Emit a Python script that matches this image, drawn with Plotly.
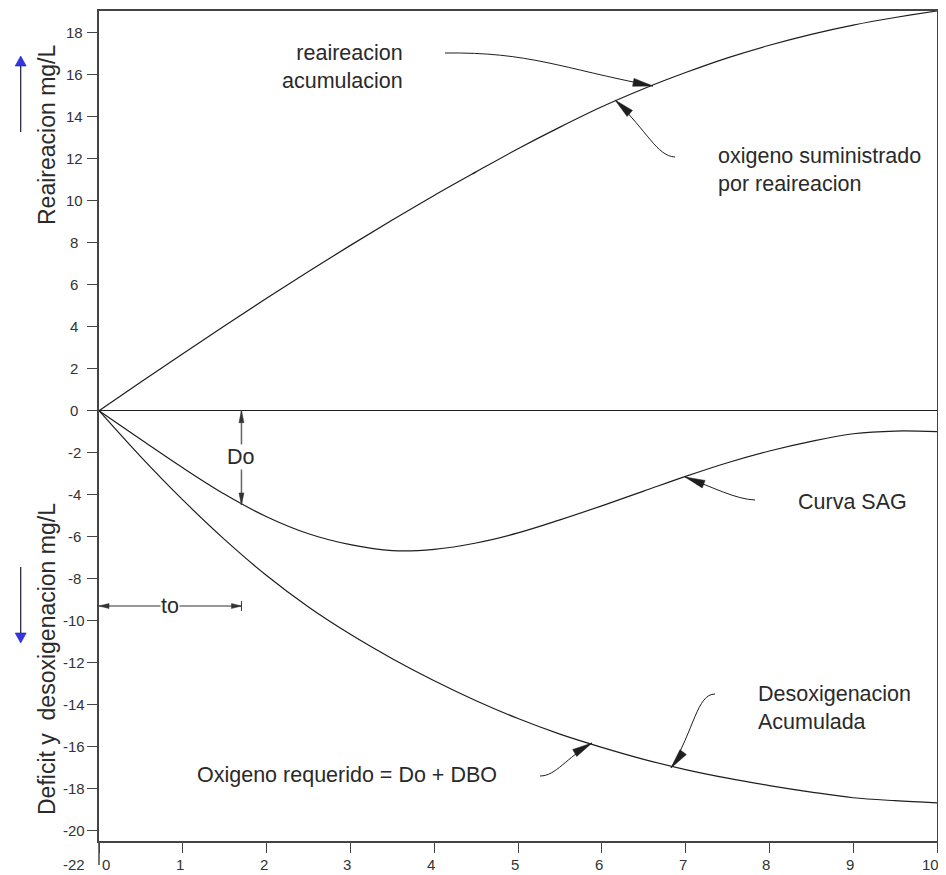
import plotly.graph_objects as go

# ---------------- data ----------------
t_vals = [0, 0.5, 1, 1.5, 2, 2.5, 3, 3.5, 4, 4.5, 5, 5.5, 6, 6.5, 7, 7.5, 8, 8.5, 9, 9.5, 10]

reaer_y = [0, 1.36, 2.71, 4.04, 5.35, 6.63, 7.87, 9.08, 10.25, 11.37, 12.47,
           13.50, 14.47, 15.33, 16.10, 16.80, 17.40, 17.92, 18.36, 18.72, 19.03]

sag_y = [0, -1.37, -2.72, -3.98, -5.05, -5.86, -6.38, -6.66, -6.60, -6.30, -5.82,
         -5.2, -4.53, -3.83, -3.13, -2.48, -1.92, -1.46, -1.1, -0.97, -1.0]

deox_y = [0, -2.2, -4.25, -6.14, -7.85, -9.35, -10.65, -11.81, -12.86, -13.81, -14.66,
          -15.4, -16.03, -16.6, -17.09, -17.5, -17.85, -18.16, -18.43, -18.57, -18.67]

x_ticks = [0, 1, 2, 3, 4, 5, 6, 7, 8, 9, 10]
y_ticks = [-20, -18, -16, -14, -12, -10, -8, -6, -4, -2, 0, 2, 4, 6, 8, 10, 12, 14, 16, 18]
y_extra_label = -22

Do_x = 1.7        # time t0 / deficit Do position
Do_val = -4.49    # deficit at t0 on the SAG curve
to_y = -9.3

# ---------------- layout geometry ----------------
OFF = 8                      # page body margin of the html page
REF_L, REF_R, REF_T, REF_B = 99, 937, 11, 841   # plot box in screen pixels
PW, PH = REF_R - REF_L, REF_B - REF_T
W, H = 946 - OFF, 875 - OFF
ML, MT = REF_L - OFF, REF_T - OFF
MR, MB = W - ML - PW, H - MT - PH
X_RANGE = [0, 10]
Y_RANGE = [-20.49, 19.03]
LABEL_PY = 864               # screen row of the bottom tick labels

FONT = "Liberation Sans, Arial, sans-serif"
TXT = "#2a2a2a"
TICK_FONT = dict(family=FONT, size=15, color="#333333")


def pd(px, py):
    """screen pixel -> data coords"""
    x = X_RANGE[0] + (px - REF_L) / PW * (X_RANGE[1] - X_RANGE[0])
    y = Y_RANGE[1] - (py - REF_T) / PH * (Y_RANGE[1] - Y_RANGE[0])
    return x, y


def dp(x, y):
    """data -> screen pixel coords"""
    px = REF_L + (x - X_RANGE[0]) / (X_RANGE[1] - X_RANGE[0]) * PW
    py = REF_T + (Y_RANGE[1] - y) / (Y_RANGE[1] - Y_RANGE[0]) * PH
    return px, py


def pp(px, py):
    """screen pixel -> paper coords"""
    return (px - REF_L) / PW, (REF_B - py) / PH


def head_path(tip, d, length=20, half=4, paper=False):
    tx, ty = tip
    dx, dy = d
    n = (dx * dx + dy * dy) ** 0.5
    dx, dy = dx / n, dy / n
    bx, by = tx - length * dx, ty - length * dy
    nx, ny = -dy, dx
    pts = [(tx, ty), (bx + half * nx, by + half * ny), (bx - half * nx, by - half * ny)]
    conv = pp if paper else pd
    pts = [conv(*p) for p in pts]
    return "M{:.4f},{:.4f} L{:.4f},{:.4f} L{:.4f},{:.4f} Z".format(*[c for p in pts for c in p])


def curve_path(p0, c1, c2, p1):
    pts = [pd(*p) for p in (p0, c1, c2, p1)]
    return "M{:.4f},{:.4f} C{:.4f},{:.4f} {:.4f},{:.4f} {:.4f},{:.4f}".format(
        *[c for p in pts for c in p])


fig = go.Figure()
line_style = dict(color="#1e1e1e", width=1.2)
for ys in [reaer_y, sag_y, deox_y]:
    fig.add_trace(go.Scatter(x=t_vals, y=ys, mode="lines",
                             line=dict(shape="spline", smoothing=1.0, **line_style),
                             hoverinfo="skip", showlegend=False))

shapes = []
# curved arrow tails
tails = [
    ((445, 53), (530, 52), (560, 68), (653, 86)),
    ((675, 157), (657, 156), (648, 132), (615, 100)),
    ((755, 500), (735, 499), (715, 488), (685, 477)),
    ((540, 776), (556, 776), (566, 758), (592, 743)),
    ((715, 694), (697, 694), (694, 730), (671, 768)),
]
for t in tails:
    shapes.append(dict(type="path", xref="x", yref="y", path=curve_path(*t),
                       line=dict(color="#1e1e1e", width=1)))
heads = [((653, 86), (70, 13)), ((615, 100), (-55, -50)), ((685, 477), (-65, -25)),
         ((592, 743), (52, -30)), ((671, 768), (-33, 43))]
for tip, d in heads:
    shapes.append(dict(type="path", xref="x", yref="y", path=head_path(tip, d, 20, 4),
                       fillcolor="#1e1e1e", line=dict(color="#1e1e1e", width=0.5)))

# Do dimension line
shapes.append(dict(type="line", xref="x", yref="y", x0=Do_x, x1=Do_x, y0=0, y1=Do_val,
                   line=dict(color="#666666", width=1.5)))
do_top = dp(Do_x, 0)
do_bot = dp(Do_x, Do_val)
for tip, d in [(do_top, (0, -1)), (do_bot, (0, 1))]:
    shapes.append(dict(type="path", xref="x", yref="y", path=head_path(tip, d, 12, 2.5),
                       fillcolor="#333333", line=dict(color="#333333", width=0.5)))

# to dimension line
shapes.append(dict(type="line", xref="x", yref="y", x0=0, x1=Do_x, y0=to_y, y1=to_y,
                   line=dict(color="#333333", width=1.2)))
to_l = dp(0, to_y)
to_r = dp(Do_x, to_y)
for tip, d in [(to_l, (-1, 0)), (to_r, (1, 0))]:
    shapes.append(dict(type="path", xref="x", yref="y", path=head_path(tip, d, 10, 2.5),
                       fillcolor="#333333", line=dict(color="#333333", width=0.5)))
b0 = pd(to_r[0], to_r[1] - 5)
b1 = pd(to_r[0], to_r[1] + 5)
shapes.append(dict(type="line", xref="x", yref="y", x0=b0[0], x1=b1[0], y0=b0[1], y1=b1[1],
                   line=dict(color="#333333", width=1)))

# y-axis extension below the x axis
e0 = pp(REF_L, REF_B)
e1 = pp(REF_L, 865)
shapes.append(dict(type="line", xref="paper", yref="paper", x0=e0[0], x1=e1[0], y0=e0[1], y1=e1[1],
                   line=dict(color="#444444", width=1.5)))

# blue direction arrows at the left
for y_start, y_end, tip_y, d in [(132, 66, 56, (0, -1)), (567, 633, 643, (0, 1))]:
    a = pp(20.7, y_start)
    b = pp(20.7, y_end)
    shapes.append(dict(type="line", xref="paper", yref="paper", x0=a[0], x1=b[0], y0=a[1], y1=b[1],
                       line=dict(color="#1a1a3a", width=1.2)))
    shapes.append(dict(type="path", xref="paper", yref="paper",
                       path=head_path((20.7, tip_y), d, 10, 5.5, paper=True),
                       fillcolor="#3535e8", line=dict(color="#2020a0", width=0.6)))

ann = []


def text_ann(text, px, py, xanchor="center", align="center", size=21.5, bg=None, color=TXT):
    x, y = pd(px, py)
    a = dict(text=text, x=x, y=y, xref="x", yref="y", xanchor=xanchor, yanchor="middle",
             align=align, showarrow=False, font=dict(family=FONT, size=size, color=color))
    if bg:
        a["bgcolor"] = bg
        a["borderpad"] = 0
    ann.append(a)


text_ann("reaireacion<br>acumulacion", 405, 66.5, xanchor="right", align="right")
text_ann("oxigeno suministrado<br>por reaireacion", 716, 170, xanchor="left", align="left")
text_ann("Curva SAG", 796, 502, xanchor="left", align="left")
text_ann("Desoxigenacion<br>Acumulada", 755.5, 708, xanchor="left", align="left")
text_ann("Oxigeno requerido = Do + DBO", 346.7, 775)
text_ann("Do", do_top[0], 457, bg="white")
text_ann("to", 170, to_l[1], bg="white")

# y tick labels (centered like the reference)
lab_x = pp(74, 0)[0]
for v in y_ticks:
    ann.append(dict(text=str(v), x=lab_x, y=v, xref="paper", yref="y", xanchor="center",
                    yanchor="middle", showarrow=False, font=TICK_FONT))
ann.append(dict(text=str(y_extra_label), x=lab_x, y=pp(0, LABEL_PY)[1], xref="paper", yref="paper",
                xanchor="center", yanchor="middle", showarrow=False, font=TICK_FONT))

# x tick labels (slightly offset like the reference)
lab_y = pp(0, LABEL_PY)[1]
for v in x_ticks:
    shift = 7 if v == x_ticks[0] else (-7 if v == x_ticks[-1] else -3)
    ann.append(dict(text=str(v), x=v, y=lab_y, xref="x", yref="paper", xanchor="center",
                    yanchor="middle", xshift=shift, showarrow=False, font=TICK_FONT))

# axis titles
for text, py in [("Reaireacion mg/L", 135), ("Deficit y\u00a0\u00a0desoxigenacion mg/L", 659)]:
    px_, py_ = pp(47, py)
    ann.append(dict(text=text, x=px_, y=py_, xref="paper", yref="paper", xanchor="center",
                    yanchor="middle", textangle=-90, showarrow=False,
                    font=dict(family=FONT, size=23, color=TXT)))

fig.update_layout(
    width=W, height=H,
    margin=dict(l=ML, r=MR, t=MT, b=MB, pad=0, autoexpand=False),
    paper_bgcolor="white", plot_bgcolor="white",
    shapes=shapes, annotations=ann,
    xaxis=dict(range=X_RANGE, tickvals=x_ticks, showticklabels=False,
               showgrid=False, zeroline=False, showline=True, mirror=True, automargin=False,
               linecolor="#444444", linewidth=1.5, ticks="outside", ticklen=10, tickwidth=1,
               tickcolor="#444444", fixedrange=True),
    yaxis=dict(range=Y_RANGE, tickvals=y_ticks, showticklabels=False, automargin=False,
               showgrid=False, zeroline=True, zerolinecolor="#1e1e1e", zerolinewidth=1.2,
               showline=True, mirror=True, linecolor="#444444", linewidth=1.5,
               ticks="outside", ticklen=10, tickwidth=1, tickcolor="#444444", fixedrange=True),
)

fig.write_html("out.html")
